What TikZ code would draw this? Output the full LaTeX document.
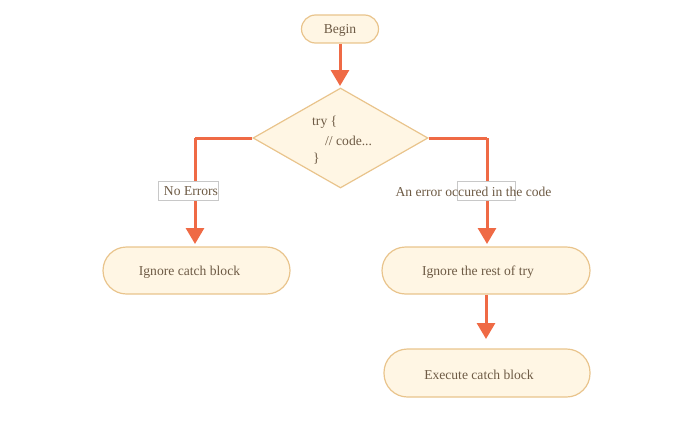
\documentclass[tikz,border=0pt]{standalone}
\usepackage{fontspec}
\setmainfont{Liberation Serif}
\usetikzlibrary{shapes.geometric,arrows.meta}
\definecolor{boxfill}{HTML}{FFF6E4}
\definecolor{boxline}{HTML}{E9C48C}
\definecolor{arrowc}{HTML}{EF6A45}
\definecolor{txt}{HTML}{6E5B45}
\definecolor{lblline}{HTML}{C8C8C8}
\newcommand{\lowertxt}[1]{\raisebox{-1.5pt}[\height][\depth]{#1}}
\tikzset{
  pill/.style={draw=boxline, fill=boxfill, line width=1.2pt, rounded corners=#1, text=txt, font=\fontsize{13.6}{16}\selectfont, inner sep=0pt},
  flow/.style={draw=arrowc, line width=3pt, -{Triangle[width=18pt,length=16pt]}},
  flowline/.style={draw=arrowc, line width=3pt},
  lbl/.style={draw=lblline, line width=0.5pt, fill=white, inner sep=1pt, minimum height=19pt},
  lbltext/.style={text=txt, font=\fontsize{13.6}{16}\selectfont, inner sep=0pt},
  code/.style={text=txt, font=\fontsize{13.6}{16}\selectfont, anchor=west, inner sep=0pt}
}
\begin{document}
\begin{tikzpicture}[x=1pt,y=-1pt]
\useasboundingbox (0,0) rectangle (700,420);
% nodes
\node[pill=14pt, minimum width=77pt, minimum height=28pt] (begin) at (340,29) {\lowertxt{Begin}};
\node[diamond, draw=boxline, fill=boxfill, line width=1.2pt, minimum width=175pt, minimum height=100pt, inner sep=0pt, aspect=1.75] (try) at (340.5,138) {};
\node[code] (t1) at (312,122) {try \{};
\node[code] (t2) at (325,141) {// code...};
\node[code] (t3) at (313,159) {\}};
\node[pill=23.5pt, minimum width=187pt, minimum height=47pt] (ignc) at (196.5,270.5) {\hspace*{-14pt}\lowertxt{Ignore catch block}};
\node[pill=23.5pt, minimum width=208pt, minimum height=47pt] (igrest) at (486,270.5) {\hspace*{-16pt}\lowertxt{Ignore the rest of try}};
\node[pill=23.5pt, minimum width=206pt, minimum height=48pt] (exec) at (487,373) {\hspace*{-16pt}\lowertxt{Execute catch block}};
% connectors
\coordinate (lc) at (195,138);
\coordinate (rc) at (487,138);
\draw[flow] (begin.south) -- (340,86);
\draw[flowline] (try.west) -- (lc);
\draw[flow] (lc) -- (195,244);
\draw[flowline] (try.east) -- (rc);
\draw[flow] (rc) -- (487,244);
\draw[flow] (igrest.south) -- (486,339);
% labels
\node[lbl, minimum width=60pt] (nolbl) at (188,190.5) {};
\node[lbltext] (nolbltext) at (191,191.5) {No Errors};
\node[lbl, minimum width=58pt] (errlbl) at (486,190.5) {};
\node[lbltext] (errlbltext) at (473.5,191.5) {An error occured in the code};
\end{tikzpicture}
\end{document}
